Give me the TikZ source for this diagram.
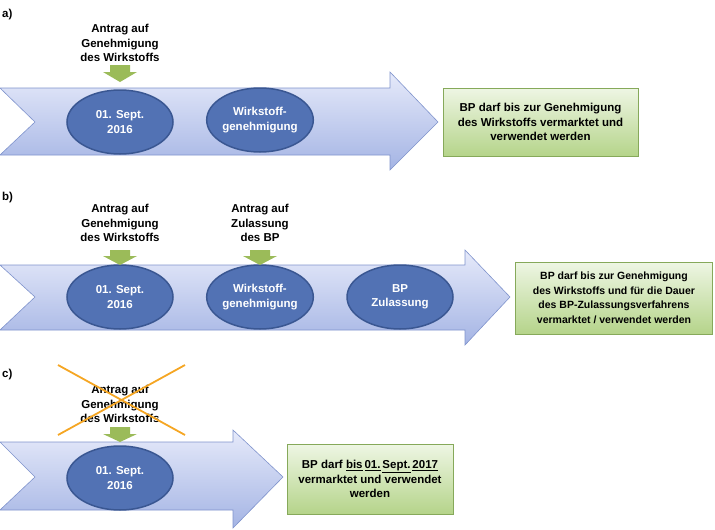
\documentclass[tikz,border=0pt]{standalone}
\usepackage{fontspec}
\setmainfont{Liberation Sans}
\usetikzlibrary{shapes.geometric}
\definecolor{elf}{HTML}{5272B4}
\definecolor{eld}{HTML}{3A5792}
\definecolor{art}{HTML}{E6EAFA}
\definecolor{arb}{HTML}{A4B4E4}
\definecolor{ard}{HTML}{7F93CC}
\definecolor{gt}{HTML}{EEF6E4}
\definecolor{gb}{HTML}{B5D48A}
\definecolor{gd}{HTML}{86A95A}
\definecolor{sm}{HTML}{9BBB59}
\definecolor{cr}{HTML}{F5A623}
\begin{document}
\begin{tikzpicture}[x=1pt,y=-1pt,
  font=\fontsize{11.5}{14.5}\selectfont\bfseries,
  big/.style={draw=ard, top color=art, bottom color=arb, line width=0.6pt},
  ell/.style={ellipse, draw=eld, fill=elf, line width=1.5pt, minimum width=106, minimum height=64, text=white, align=center, inner sep=0},
  gbox/.style={draw=gd, top color=gt, bottom color=gb, align=center, inner sep=2, line width=0.6pt},
  small/.style={fill=sm, draw=none},
  lab/.style={align=center, inner sep=0},
  cross/.style={draw=cr, line width=1.8pt}]
\useasboundingbox (0,0) rectangle (715,530);
% a)
\node[anchor=west, inner sep=0] (la) at (2,15) {a)};
\draw[big] (0,88) -- (390,88) -- (390,72) -- (438,122) -- (390,170) -- (390,155) -- (0,155) -- (35,122) -- cycle;
\node[ell] (a1) at (120,122) {01. Sept.\\2016};
\node[ell] (a2) at (260,120) {Wirkstoff-\\genehmigung};
\fill[small] (110,65) -- (130,65) -- (130,72) -- (137,72) -- (120,82) -- (103,72) -- (110,72) -- cycle;
\node[lab] (ta) at (120,43) {Antrag auf\\Genehmigung\\des Wirkstoffs};
\node[gbox, minimum width=195, minimum height=68] (ga) at (540.5,122) {BP darf bis zur Genehmigung\\des Wirkstoffs vermarktet und\\verwendet werden};
% b)
\node[anchor=west, inner sep=0] (lb) at (2,198) {b)};
\draw[big] (0,265) -- (465,265) -- (465,250) -- (510,297) -- (465,345) -- (465,330) -- (0,330) -- (35,297) -- cycle;
\node[ell] (b1) at (120,297) {01. Sept.\\2016};
\node[ell] (b2) at (260,297) {Wirkstoff-\\genehmigung};
\node[ell] (b3) at (400,297) {BP\\Zulassung};
\fill[small] (110,250) -- (130,250) -- (130,256) -- (137,256) -- (120,265) -- (103,256) -- (110,256) -- cycle;
\fill[small] (250,250) -- (270,250) -- (270,256) -- (277,256) -- (260,265) -- (243,256) -- (250,256) -- cycle;
\node[lab] (tb1) at (120,223) {Antrag auf\\Genehmigung\\des Wirkstoffs};
\node[lab] (tb2) at (260,223) {Antrag auf\\Zulassung\\des BP};
\node[gbox, minimum width=197, minimum height=72] (gb) at (614,298) {\fontsize{10.5}{14}\selectfont BP darf bis zur Genehmigung\\\fontsize{10.5}{14}\selectfont des Wirkstoffs und f\"ur die Dauer\\\fontsize{10.5}{14}\selectfont des BP-Zulassungsverfahrens\\\fontsize{10.5}{14}\selectfont vermarktet / verwendet werden};
% c)
\node[anchor=west, inner sep=0] (lc) at (2,375) {c)};
\draw[big] (0,442) -- (233,442) -- (233,430) -- (283,477) -- (233,528) -- (233,510) -- (0,510) -- (35,477) -- cycle;
\node[ell] (c1) at (120,478) {01. Sept.\\2016};
\fill[small] (110,427) -- (130,427) -- (130,434) -- (137,434) -- (120,442) -- (103,434) -- (110,434) -- cycle;
\node[lab] (tc) at (120,404) {Antrag auf\\Genehmigung\\des Wirkstoffs};
\coordinate (x1) at (58,365); \coordinate (x2) at (185,435);
\coordinate (x3) at (185,365); \coordinate (x4) at (58,435);
\draw[cross] (x1) -- (x2);
\draw[cross] (x3) -- (x4);
\node[gbox, minimum width=166, minimum height=70] (gc) at (370,479) {BP darf \underline{bis}\,\underline{01.}\,\underline{Sept.}\,\underline{2017}\\vermarktet und verwendet\\werden};
\end{tikzpicture}
\end{document}
